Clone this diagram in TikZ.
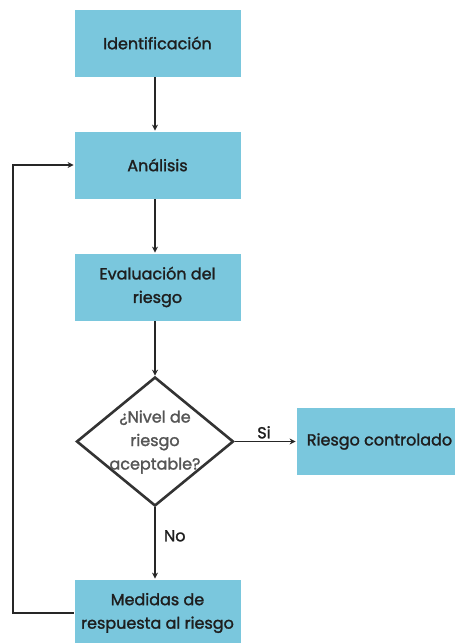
\documentclass[tikz,border=0pt]{standalone}
\usepackage{fontspec}
\setmainfont{Poppins}
\newfontfamily\medfont{Poppins}[FakeBold=1.6]
\usetikzlibrary{shapes.geometric,arrows.meta}
\definecolor{boxblue}{HTML}{7AC7DD}
\definecolor{dtext}{HTML}{1E1E1E}
\definecolor{gtext}{HTML}{555555}
\tikzset{
  txt/.style={font=\medfont\fontsize{16}{23.5}\selectfont},
  stepbox/.style={txt,fill=boxblue,draw=white,line width=0.8pt,minimum width=167pt,minimum height=68pt,inner sep=0pt,align=center,text=dtext},
  decision/.style={diamond,draw=black!80,line width=2.6pt,minimum width=157pt,minimum height=129pt,inner sep=0pt,aspect=1.22},
  conn/.style={draw=black!85,line width=1.4pt,-{Stealth[length=6pt,width=6pt]}},
  lbl/.style={txt,text=dtext}
}
\begin{document}
\begin{tikzpicture}[x=1pt,y=-1pt]
\useasboundingbox (0,0) rectangle (455,643);
\clip (0,0) rectangle (455,643);
\node[stepbox] (ident) at (157.5,43) {Identificación};
\node[stepbox] (anal) at (157.5,165) {Análisis};
\node[stepbox] (eval) at (157.5,287) {Evaluación del\\riesgo};
\node[decision] (dec) at (155,441.5) {};
\node[txt,text=gtext,align=center] (dectext) at (155,442) {¿Nivel de\\riesgo\\aceptable?};
\node[stepbox] (ctrl) at (379.5,441.5) {\hspace*{0pt}Riesgo controlado};
\node[stepbox] (med) at (157.5,613) {Medidas de\\respuesta al riesgo};
\coordinate (cl1) at (13,613);
\coordinate (cl2) at (13,165);
\draw[conn] (ident.south -| 155,0) -- (anal.north -| 155,0);
\draw[conn] (anal.south -| 155,0) -- (eval.north -| 155,0);
\draw[conn] (eval.south -| 155,0) -- (dec.north);
\draw[conn] (dec.east) -- (ctrl.west) node[lbl,pos=0.48,above=-1pt] (si) {Si};
\draw[conn] (dec.south) -- (med.north -| dec.south) node[lbl,pos=0.4,right=5pt] (no) {No};
\draw[conn] (med.west) -- (cl1) -- (cl2) -- (anal.west);
\end{tikzpicture}
\end{document}
